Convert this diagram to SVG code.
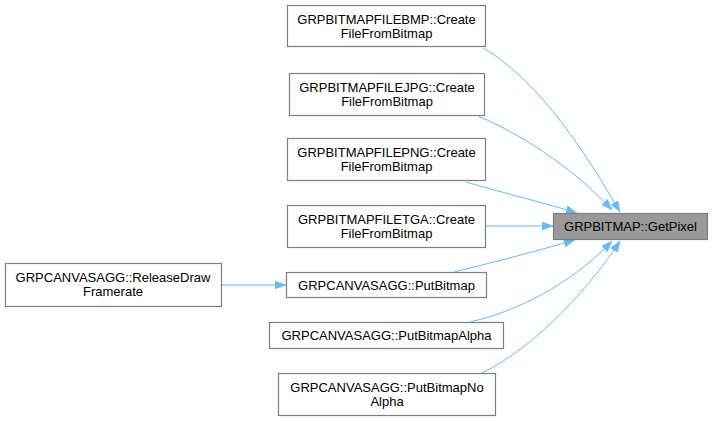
<svg xmlns="http://www.w3.org/2000/svg" width="713" height="421" viewBox="0 0 713 421">
<style>
.n rect{fill:#ffffff;stroke:#7f7f7f;stroke-width:1.2}
.n.t rect{fill:#999999}
.n text{font-family:"Liberation Sans",Arial,sans-serif;font-size:13px;fill:#000000;text-anchor:middle}
.e path{fill:none;stroke:#63b8ff;stroke-width:1}
</style>
<defs>
<marker id="ah" markerUnits="userSpaceOnUse" markerWidth="13" markerHeight="10" refX="11" refY="4" orient="auto">
<path d="M0,0 L11,4 L0,8 z" fill="#63b8ff" stroke="#63b8ff" stroke-width="0.5"/>
</marker>
</defs>
<rect width="713" height="421" fill="#ffffff"/>
<g id="edges" class="e">
<path marker-end="url(#ah)" d="M483,48 C540,80 590,160 620,212"/>
<path marker-end="url(#ah)" d="M478,116 C530,138 580,175 612,210"/>
<path marker-end="url(#ah)" d="M466,182 C500,192 545,203 577,213"/>
<path marker-end="url(#ah)" d="M486,226 L553,226"/>
<path marker-end="url(#ah)" d="M454,272 C495,262 540,250 575,240"/>
<path marker-end="url(#ah)" d="M470,322 C530,308 580,275 612,241"/>
<path marker-end="url(#ah)" d="M482,373 C540,345 595,280 620,241"/>
<path marker-end="url(#ah)" d="M221,285 L286,285"/>
</g>
<g id="node-target" class="n t">
<rect x="553.5" y="213.5" width="154" height="26"/>
<text x="630.5" y="231">GRPBITMAP::GetPixel</text>
</g>
<g id="node-bmp" class="n">
<rect x="287.5" y="5.5" width="198" height="41"/>
<text x="386.5" y="24">GRPBITMAPFILEBMP::Create</text>
<text x="386.5" y="38">FileFromBitmap</text>
</g>
<g id="node-jpg" class="n">
<rect x="289.5" y="73.5" width="195" height="42"/>
<text x="387" y="92">GRPBITMAPFILEJPG::Create</text>
<text x="387" y="106">FileFromBitmap</text>
</g>
<g id="node-png" class="n">
<rect x="287.5" y="138.5" width="198" height="42"/>
<text x="386.5" y="157">GRPBITMAPFILEPNG::Create</text>
<text x="386.5" y="171">FileFromBitmap</text>
</g>
<g id="node-tga" class="n">
<rect x="287.5" y="205.5" width="198" height="42"/>
<text x="386.5" y="224">GRPBITMAPFILETGA::Create</text>
<text x="386.5" y="238">FileFromBitmap</text>
</g>
<g id="node-putbitmap" class="n">
<rect x="286.5" y="272.5" width="200" height="25"/>
<text x="386.5" y="289.5">GRPCANVASAGG::PutBitmap</text>
</g>
<g id="node-putbitmapalpha" class="n">
<rect x="269.5" y="322.5" width="234" height="26"/>
<text x="386.5" y="340">GRPCANVASAGG::PutBitmapAlpha</text>
</g>
<g id="node-putbitmapnoalpha" class="n">
<rect x="278.5" y="373.5" width="217" height="42"/>
<text x="387" y="392">GRPCANVASAGG::PutBitmapNo</text>
<text x="387" y="406">Alpha</text>
</g>
<g id="node-releasedraw" class="n">
<rect x="5.5" y="263.5" width="216" height="43"/>
<text x="113" y="282">GRPCANVASAGG::ReleaseDraw</text>
<text x="113" y="296">Framerate</text>
</g>
</svg>
